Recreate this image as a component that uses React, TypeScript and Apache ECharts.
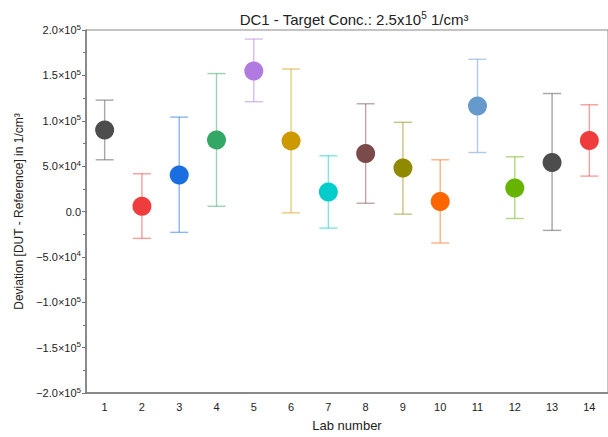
import React, { useEffect, useRef } from "react";
import * as echarts from "echarts";

const labs = ["1", "2", "3", "4", "5", "6", "7", "8", "9", "10", "11", "12", "13", "14"];
const means = [89900, 5800, 40200, 78900, 154900, 77800, 21500, 63900, 47900, 11000, 116200, 26000, 54000, 78200];
const uppers = [122700, 41600, 104000, 152000, 190000, 157000, 61400, 118700, 98300, 57000, 167700, 60300, 130000, 117600];
const lowers = [57000, -29600, -23000, 5800, 121000, -1500, -18300, 9100, -2900, -34700, 65000, -7700, -20800, 39000];
const colors = ["#4d4d4d", "#ef3d3d", "#1a6ee0", "#33a865", "#b07ae0", "#cc9900", "#00cccc", "#7b4b4b", "#8f8a00", "#ff6600", "#6699cc", "#66b300", "#4d4d4d", "#ef3d3d"];

const FONT = "Liberation Sans, Arial, sans-serif";

function fmtY(v: number): string {
  if (v === 0) return "{a|0.0}";
  const sign = v < 0 ? "−" : "";
  const a = Math.abs(v);
  const e = Math.floor(Math.log10(a) + 1e-9);
  const m = a / Math.pow(10, e);
  return `{a|${sign}${m.toFixed(1)}×10}{s|${e}}`;
}

export default function App() {
  const ref = useRef<HTMLDivElement>(null);
  useEffect(() => {
    if (!ref.current) return;
    const chart = echarts.init(ref.current, undefined, { renderer: "svg" });
    const errData = labs.map((_, i) => [i, lowers[i], uppers[i]]);
    const option: any = {
      animation: false,
      backgroundColor: "#ffffff",
      title: {
        text: "{t|DC1 - Target Conc.: 2.5x10}{s|5}{t| 1/cm³}",
        left: 349,
        textAlign: "center",
        top: 5,
        textStyle: {
          fontWeight: "normal",
          rich: {
            t: { fontFamily: FONT, fontSize: 15, color: "#222", fontWeight: "normal" },
            s: { fontFamily: FONT, fontSize: 10, color: "#222", fontWeight: "normal", verticalAlign: "top", padding: [0, 0, 8, 0] },
          },
        },
      },
      grid: { left: 86, top: 30, right: -3, bottom: 42, show: true, borderColor: "#888", borderWidth: 1 },
      xAxis: {
        type: "category",
        data: labs,
        boundaryGap: true,
        name: "Lab number",
        nameLocation: "middle",
        nameGap: 26,
        nameTextStyle: { fontFamily: FONT, fontSize: 13, color: "#222" },
        axisLine: { onZero: false, lineStyle: { color: "#777", width: 1.5 } },
        axisTick: { alignWithLabel: true, length: 4, lineStyle: { color: "#777" } },
        axisLabel: { fontFamily: FONT, fontSize: 11, color: "#222", margin: 8 },
        splitLine: { show: false },
      },
      yAxis: {
        type: "value",
        min: -200000,
        max: 200000,
        interval: 50000,
        name: "Deviation [DUT - Reference] in 1/cm³",
        nameLocation: "middle",
        nameGap: 60,
        nameTextStyle: { fontFamily: FONT, fontSize: 12, color: "#222" },
        axisLine: { show: true, onZero: false, lineStyle: { color: "#777", width: 1.5 } },
        axisTick: { show: true, length: 4, lineStyle: { color: "#777" } },
        minorTick: { show: true, splitNumber: 2, length: 3, lineStyle: { color: "#777" } },
        splitLine: { show: false },
        axisLabel: {
          margin: 5,
          formatter: (v: number) => fmtY(v),
          rich: {
            a: { fontFamily: FONT, fontSize: 11, color: "#222" },
            s: { fontFamily: FONT, fontSize: 8, color: "#222", verticalAlign: "top", padding: [0, 0, 6, 0] },
          },
        },
      },
      series: [
        {
          type: "custom",
          data: errData,
          encode: { x: 0, y: [1, 2] },
          z: 1,
          renderItem: (params: any, api: any) => {
            const i = api.value(0);
            const lo = api.coord([i, api.value(1)]);
            const hi = api.coord([i, api.value(2)]);
            const half = 9;
            const style = { stroke: colors[params.dataIndex], lineWidth: 1.4, opacity: 0.5 };
            return {
              type: "group",
              children: [
                { type: "line", shape: { x1: lo[0], y1: lo[1], x2: hi[0], y2: hi[1] }, style },
                { type: "line", shape: { x1: hi[0] - half, y1: hi[1], x2: hi[0] + half, y2: hi[1] }, style },
                { type: "line", shape: { x1: lo[0] - half, y1: lo[1], x2: lo[0] + half, y2: lo[1] }, style },
              ],
            };
          },
        },
        {
          type: "scatter",
          symbol: "circle",
          symbolSize: 19,
          z: 2,
          data: means.map((v, i) => ({ value: [i, v], itemStyle: { color: colors[i], opacity: 1 } })),
        },
      ],
    };
    chart.setOption(option);
    return () => chart.dispose();
  }, []);
  return <div ref={ref} style={{ width: 608, height: 437, position: "absolute", left: 0, top: 0 }} />;
}
